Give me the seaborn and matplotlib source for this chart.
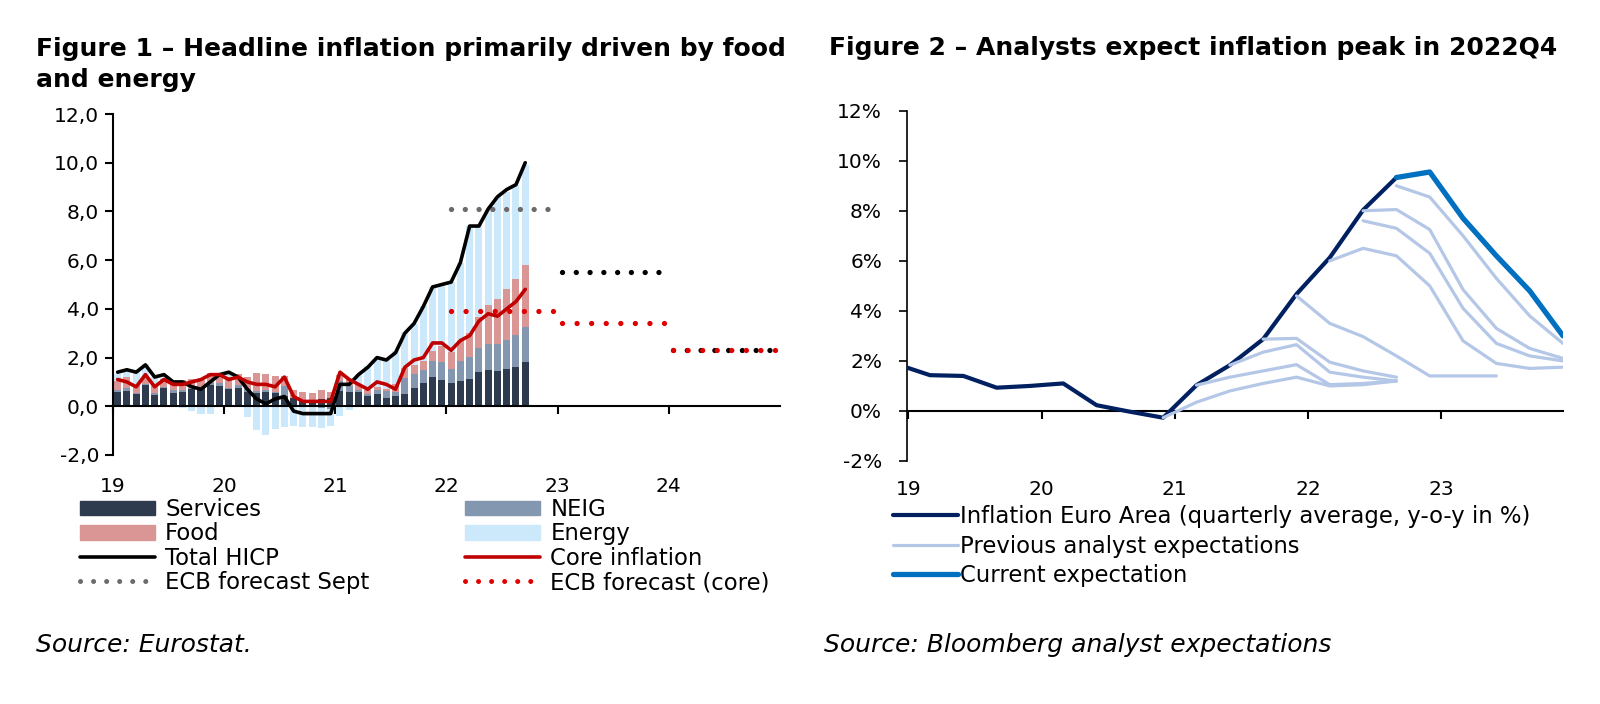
import numpy as np
import pandas as pd
import matplotlib
matplotlib.use("Agg")
import matplotlib.pyplot as plt
import seaborn as sns
from matplotlib.lines import Line2D
from matplotlib.patches import Patch
from matplotlib.ticker import FuncFormatter

sns.set_theme(style="white")
plt.rcParams["font.family"] = ["DejaVu Sans"]
plt.rcParams.update({
    "xtick.bottom": True, "ytick.left": True,
    "xtick.color": "black", "ytick.color": "black",
    "text.color": "black", "axes.edgecolor": "black",
})

# ---------- Figure 1: monthly contributions (pp), Jan 2019 - Sep 2022 ----------
months = pd.date_range("2019-01-01", "2022-09-01", freq="MS")
services = [0.60, 0.64, 0.51, 0.87, 0.46, 0.74, 0.55, 0.60, 0.69, 0.69, 0.87, 0.83,
            0.69, 0.74, 0.60, 0.55, 0.60, 0.55, 0.41, 0.32, 0.23, 0.18, 0.28, 0.32,
            0.63, 0.59, 0.59, 0.41, 0.50, 0.32, 0.41, 0.50, 0.77, 0.95, 1.22, 1.08,
            0.97, 1.05, 1.13, 1.39, 1.47, 1.43, 1.55, 1.60, 1.81]
neig = [0.08, 0.10, 0.05, 0.05, 0.08, 0.05, 0.10, 0.08, 0.08, 0.08, 0.10, 0.13,
        0.08, 0.13, 0.13, 0.08, 0.05, 0.05, 0.42, -0.03, -0.03, -0.03, -0.08, -0.13,
        0.39, 0.26, 0.08, 0.10, 0.18, 0.31, 0.18, 0.68, 0.55, 0.52, 0.62, 0.75,
        0.55, 0.81, 0.88, 0.99, 1.09, 1.12, 1.17, 1.33, 1.45]
food = [0.36, 0.46, 0.30, 0.30, 0.32, 0.32, 0.28, 0.38, 0.36, 0.30, 0.38, 0.40,
        0.44, 0.46, 0.48, 0.72, 0.66, 0.64, 0.40, 0.34, 0.36, 0.38, 0.38, 0.26,
        0.28, 0.26, 0.22, 0.14, 0.12, 0.10, 0.32, 0.40, 0.38, 0.38, 0.44, 0.64,
        0.70, 0.84, 1.00, 1.30, 1.60, 1.85, 2.10, 2.30, 2.55]
energy = [0.30, 0.33, 0.53, 0.50, 0.36, 0.05, 0.05, -0.05, -0.18, -0.31, -0.32, 0.02,
          0.19, -0.03, -0.45, -0.97, -1.19, -0.93, -0.84, -0.78, -0.82, -0.82, -0.83, -0.69,
          -0.40, -0.16, 0.41, 0.99, 1.24, 1.20, 1.36, 1.46, 1.67, 2.25, 2.61, 2.47,
          2.90, 3.20, 4.40, 3.75, 3.90, 4.20, 3.96, 3.86, 4.10]
total_hicp = [1.4, 1.5, 1.4, 1.7, 1.2, 1.3, 1.0, 1.0, 0.8, 0.7, 1.0, 1.3,
              1.4, 1.2, 0.7, 0.3, 0.1, 0.3, 0.4, -0.2, -0.3, -0.3, -0.3, -0.3,
              0.9, 0.9, 1.3, 1.6, 2.0, 1.9, 2.2, 3.0, 3.4, 4.1, 4.9, 5.0,
              5.1, 5.9, 7.4, 7.4, 8.1, 8.6, 8.9, 9.1, 10.0]
core_infl = [1.1, 1.0, 0.8, 1.3, 0.8, 1.1, 0.9, 0.9, 1.0, 1.1, 1.3, 1.3,
             1.1, 1.2, 1.0, 0.9, 0.9, 0.8, 1.2, 0.4, 0.2, 0.2, 0.2, 0.2,
             1.4, 1.1, 0.9, 0.7, 1.0, 0.9, 0.7, 1.6, 1.9, 2.0, 2.6, 2.6,
             2.3, 2.7, 2.9, 3.5, 3.8, 3.7, 4.0, 4.3, 4.8]
ecb_years = [2022, 2023, 2024]
ecb_headline = [8.1, 5.5, 2.3]
ecb_core = [3.9, 3.4, 2.3]
years_1 = [2019, 2020, 2021, 2022, 2023, 2024]
year_labels_1 = ["19", "20", "21", "22", "23", "24"]

# ---------- Figure 2: quarterly inflation and analyst expectations ----------
quarters = ["2018Q4", "2019Q1", "2019Q2", "2019Q3", "2019Q4", "2020Q1", "2020Q2",
            "2020Q3", "2020Q4", "2021Q1", "2021Q2", "2021Q3", "2021Q4", "2022Q1",
            "2022Q2", "2022Q3", "2022Q4", "2023Q1", "2023Q2", "2023Q3", "2023Q4"]
actual = [1.87, 1.43, 1.40, 0.93, 1.00, 1.10, 0.23, -0.03, -0.27, 1.03,
          1.83, 2.87, 4.67, 6.13, 8.03, 9.33]
current_start = "2022Q3"
current = [9.33, 9.55, 7.70, 6.20, 4.80, 3.00]
prev_starts = ["2020Q4", "2021Q1", "2021Q2", "2021Q3", "2021Q4",
               "2022Q1", "2022Q2", "2022Q2", "2022Q3"]
prev_values = [
    [-0.27, 0.35, 0.80, 1.10, 1.35, 1.00, 1.05, 1.20],
    [1.03, 1.35, 1.60, 1.85, 1.05, 1.10, 1.20],
    [1.83, 2.35, 2.65, 1.55, 1.35, 1.20],
    [2.87, 2.90, 1.95, 1.60, 1.35],
    [4.60, 3.50, 2.97, 2.20, 1.40, 1.40, 1.40],
    [6.00, 6.50, 6.20, 5.00, 2.80, 1.90, 1.70, 1.75],
    [7.60, 7.30, 6.30, 4.10, 2.70, 2.20, 2.00],
    [8.00, 8.05, 7.25, 4.85, 3.30, 2.50, 2.10],
    [9.00, 8.55, 7.00, 5.30, 3.80, 2.70],
]
year_labels_2 = ["19", "20", "21", "22", "23"]

# colours
C_SERV, C_NEIG, C_FOOD, C_ENER = "#2e3a4e", "#8497b0", "#da9694", "#cce8fb"
C_CORE, C_SEPT, C_ECB_CORE = "#c00000", "#6b6b6b", "#e00000"
C_ACT, C_PREV, C_CUR = "#002060", "#b4c7e7", "#0070c0"
FS = 14.5      # tick labels
FS_LEG = 16.4  # legend text
FS_TITLE = 18
DOT = (0, (0.01, 2.6))
DOT_CORE = (0, (0.01, 2.75))

W, H = 1600, 704
fig = plt.figure(figsize=(W / 100, H / 100), dpi=100)
ax1 = fig.add_axes([113 / W, (H - 455) / H, (780 - 113) / W, (455 - 114) / H])
ax2 = fig.add_axes([907 / W, (H - 461) / H, (1563 - 907) / W, (461 - 110.7) / H])

# ---------- left chart ----------
xm = (months.year - 2019) * 12 + months.month - 1 + 0.5
pos_b = np.zeros(len(xm))
neg_b = np.zeros(len(xm))
for vals, col in zip([services, neig, food, energy], [C_SERV, C_NEIG, C_FOOD, C_ENER]):
    v = np.array(vals)
    ax1.bar(xm, v, bottom=np.where(v >= 0, pos_b, neg_b), width=0.76,
            color=col, linewidth=0, zorder=2)
    pos_b += np.clip(v, 0, None)
    neg_b += np.clip(v, None, 0)

for yr, h, c, hc in zip(ecb_years, ecb_headline, ecb_core, [C_SEPT, "black", "black"]):
    xs = [(yr - 2019) * 12 + 0.5, (yr - 2019) * 12 + 11.5]
    ax1.plot(xs, [h, h], color=hc, lw=3.8, linestyle=DOT, dash_capstyle="round", zorder=3)
    ax1.plot(xs, [c, c], color=C_ECB_CORE, lw=3.8, linestyle=DOT_CORE,
             dash_capstyle="round", zorder=3)

sns.lineplot(x=xm, y=total_hicp, ax=ax1, color="black", lw=2.6, legend=False,
             sort=False, zorder=4)
sns.lineplot(x=xm, y=core_infl, ax=ax1, color=C_CORE, lw=2.6, legend=False,
             sort=False, zorder=5)

ax1.set_xlim(0, 72)
ax1.set_ylim(-2, 12)
ax1.set_yticks(np.arange(-2, 13, 2))
ax1.yaxis.set_major_formatter(FuncFormatter(lambda v, p: f"{v:.1f}".replace(".", ",")))
ax1.set_xticks([(y - 2019) * 12 for y in years_1])
ax1.tick_params(axis="x", direction="out", length=6, width=1.5, labelbottom=False)
ax1.tick_params(axis="y", direction="out", length=6, width=1.5, labelsize=FS, pad=4)
ax1.spines[["top", "right"]].set_visible(False)
ax1.spines["bottom"].set_position(("data", 0))
for s in ["bottom", "left"]:
    ax1.spines[s].set_linewidth(1.5)
ax1.set_xlabel("")
ax1.set_ylabel("")
sec1 = ax1.secondary_xaxis("bottom")
sec1.set_xticks([(y - 2019) * 12 for y in years_1], labels=year_labels_1)
sec1.spines["bottom"].set_visible(False)
sec1.tick_params(length=0, pad=16, labelsize=FS)

# ---------- right chart ----------
qpos = {q: i - 1 for i, q in enumerate(quarters)}
sns.lineplot(x=[qpos[q] for q in quarters[:len(actual)]], y=actual, ax=ax2,
             color=C_ACT, lw=3.0, legend=False, sort=False, zorder=3)
for start, vals in zip(prev_starts, prev_values):
    xs = [qpos[start] + i for i in range(len(vals))]
    sns.lineplot(x=xs, y=vals, ax=ax2, color=C_PREV, lw=2.3, legend=False,
                 sort=False, zorder=4)
sns.lineplot(x=[qpos[current_start] + i for i in range(len(current))], y=current,
             ax=ax2, color=C_CUR, lw=3.8, legend=False, sort=False, zorder=5)
for ln in ax2.lines:
    ln.set_solid_joinstyle("round")

ax2.set_xlim(-0.69, 19)
ax2.set_ylim(-2, 12)
ax2.set_yticks(np.arange(-2, 13, 2))
ax2.yaxis.set_major_formatter(FuncFormatter(lambda v, p: f"{v:.0f}%"))
qticks = [4 * i - 0.65 for i in range(len(year_labels_2))]
ax2.set_xticks(qticks)
ax2.tick_params(axis="x", direction="out", length=6, width=1.5, labelbottom=False)
ax2.tick_params(axis="y", direction="out", length=6, width=1.2, labelsize=FS, pad=12)
ax2.spines[["top", "right"]].set_visible(False)
ax2.spines["bottom"].set_position(("data", 0))
ax2.spines["bottom"].set_linewidth(1.5)
ax2.spines["left"].set_linewidth(1.2)
ax2.set_xlabel("")
ax2.set_ylabel("")
sec2 = ax2.secondary_xaxis("bottom")
sec2.set_xticks(qticks, labels=year_labels_2)
sec2.spines["bottom"].set_visible(False)
sec2.tick_params(length=0, pad=14, labelsize=FS)

# ---------- legends ----------
h1 = [Patch(color=C_SERV), Patch(color=C_FOOD),
      Line2D([], [], color="black", lw=2.6),
      Line2D([], [], color=C_SEPT, lw=3.6, linestyle=DOT, dash_capstyle="round"),
      Patch(color=C_NEIG), Patch(color=C_ENER),
      Line2D([], [], color=C_CORE, lw=2.6),
      Line2D([], [], color=C_ECB_CORE, lw=3.6, linestyle=DOT, dash_capstyle="round")]
l1 = ["Services", "Food", "Total HICP", "ECB forecast Sept",
      "NEIG", "Energy", "Core inflation", "ECB forecast (core)"]
fig.legend(h1, l1, ncol=2, loc="upper left", bbox_to_anchor=(80 / W, 1 - 498 / H),
           frameon=False, fontsize=FS_LEG, handlelength=3.3, handletextpad=0.44,
           columnspacing=4.2, labelspacing=0.06, handleheight=0.6,
           borderpad=0, borderaxespad=0)

h2 = [Line2D([], [], color=C_ACT, lw=3.0),
      Line2D([], [], color=C_PREV, lw=2.3),
      Line2D([], [], color=C_CUR, lw=3.8)]
l2 = ["Inflation Euro Area (quarterly average, y-o-y in %)",
      "Previous analyst expectations", "Current expectation"]
fig.legend(h2, l2, loc="upper left", bbox_to_anchor=(893 / W, 1 - 505 / H),
           frameon=False, fontsize=FS_LEG, handlelength=2.85, handletextpad=0.1,
           labelspacing=0.29, borderpad=0, borderaxespad=0)

# ---------- titles and sources ----------
fig.text(36 / W, 1 - 64.5 / H, "Figure 1 \u2013 Headline inflation primarily driven by food\nand energy",
         fontsize=FS_TITLE, fontweight="bold", va="center", ha="left", linespacing=1.33)
fig.text(829 / W, 1 - 48 / H, "Figure 2 \u2013 Analysts expect inflation peak in 2022Q4",
         fontsize=FS_TITLE, fontweight="bold", va="center", ha="left")
fig.text(36 / W, 1 - 645 / H, "Source: Eurostat.", fontsize=FS_TITLE, style="italic",
         va="center", ha="left")
fig.text(824 / W, 1 - 645 / H, "Source: Bloomberg analyst expectations", fontsize=FS_TITLE,
         style="italic", va="center", ha="left")

fig.savefig("out.png", dpi=100)
